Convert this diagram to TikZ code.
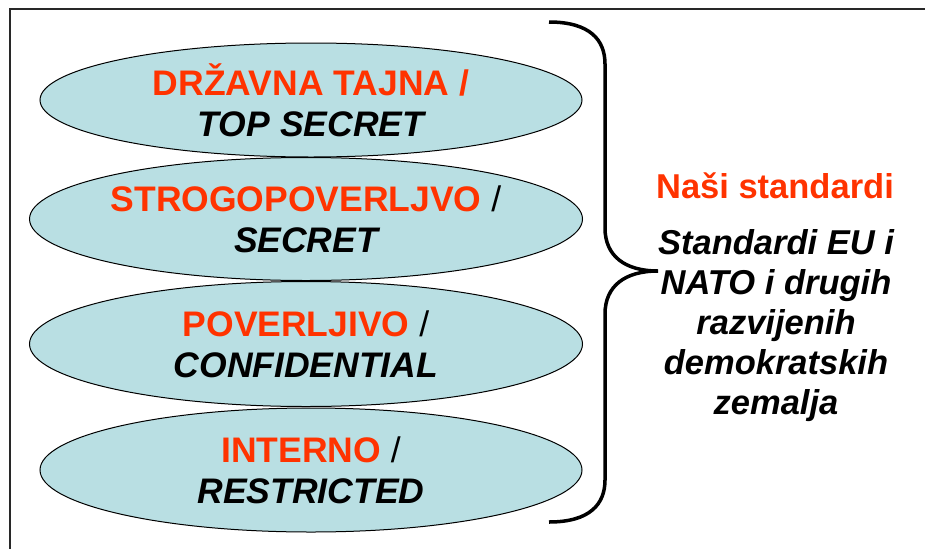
\documentclass[tikz,border=0pt]{standalone}
\usepackage{fontspec}
\setmainfont{Liberation Sans}
\usetikzlibrary{shapes.geometric}
\definecolor{redtxt}{RGB}{255,51,0}
\definecolor{ellfill}{RGB}{185,223,227}
\definecolor{framegray}{RGB}{40,40,40}
\newcommand{\rd}[1]{\textcolor{redtxt}{\bfseries #1}}
\newcommand{\bi}[1]{{\bfseries\itshape #1}}
\begin{document}
\begin{tikzpicture}[x=1pt,y=-1pt,
  ell/.style={ellipse, draw=black, line width=1pt, fill=ellfill, inner sep=0pt,
    align=center, font=\fontsize{35.5}{41}\selectfont},
  side/.style={align=center, font=\fontsize{34.5}{40}\selectfont},
  brace/.style={line width=3.5pt, line cap=butt},
  framel/.style={draw=framegray, line width=2pt}]
\useasboundingbox (0,0) rectangle (925,549);
\coordinate (ftop) at (925,9);
\coordinate (fcorner) at (10,9);
\coordinate (fbot) at (10,549);
\draw[framel] (ftop) -- (fcorner) -- (fbot);

\node[ell, minimum width=542pt, minimum height=114pt] (e1) at (311,100)
  {\rd{DRŽAVNA TAJNA /}\\ \bi{TOP SECRET}};
\node[ell, minimum width=553pt, minimum height=123pt] (e2) at (306,219)
  {\rd{STROGOPOVERLJVO} /\\ \bi{SECRET}};
\node[ell, minimum width=553pt, minimum height=125pt] (e3) at (306,344)
  {\rd{POVERLJIVO} /\\ \bi{CONFIDENTIAL}};
\node[ell, minimum width=542pt, minimum height=124pt] (e4) at (311,470)
  {\rd{INTERNO} /\\ \bi{RESTRICTED}};

\coordinate (btop) at (549,22);
\coordinate (btip) at (658,271);
\coordinate (bbot) at (549,522);
\draw[brace] (btop) .. controls (590,22) and (605,40) .. (605,64)
  -- (605,228) .. controls (605,256) and (625,271) .. (btip)
  .. controls (625,271) and (605,286) .. (605,314)
  -- (605,480) .. controls (605,504) and (590,522) .. (bbot);

\node[side, anchor=base, text=redtxt, font=\fontsize{34.5}{40}\selectfont\bfseries] (ns) at (775,198) {Naši standardi};
\node[side, font=\fontsize{34.5}{40}\selectfont\bfseries\itshape] (std) at (776,326)
  {Standardi EU i\\ NATO i drugih\\ razvijenih\\ demokratskih\\ zemalja};
\end{tikzpicture}
\end{document}
